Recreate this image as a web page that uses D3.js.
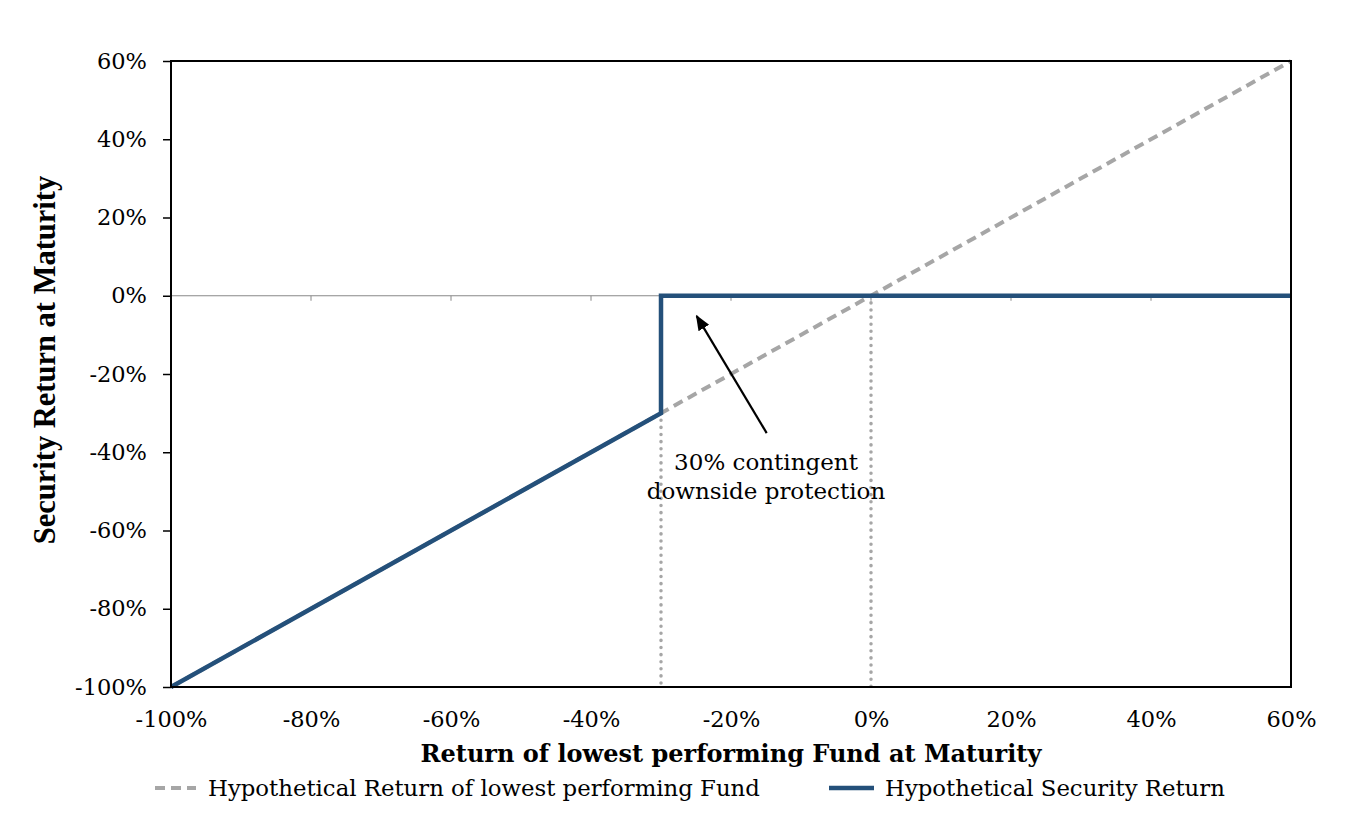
<!DOCTYPE html>
<html>
<head>
<meta charset="utf-8">
<script src="https://cdn.jsdelivr.net/npm/d3@7"></script>
<style>
  body { margin: 0; background: #fff; }
  svg { display: block; }
</style>
</head>
<body>
<svg id="chart"></svg>
<script>
// data
const tickValues = [-1, -0.8, -0.6, -0.4, -0.2, 0, 0.2, 0.4, 0.6];
const fundX = [-1, 0.6];
const fundY = [-1, 0.6];
const securityX = [-1, -0.3, -0.3, 0.6];
const securityY = [-1, -0.3, 0, 0];
const thresholdX = [-0.3, 0];
const thresholdTop = [-0.3, 0];
const seriesNames = ['Hypothetical Return of lowest performing Fund', 'Hypothetical Security Return'];
const noteLines = ['30% contingent', 'downside protection'];
const arrowFrom = [-0.149, -0.351];
const arrowTo = [-0.249, -0.052];

const W = 1368, H = 820;
const margin = {top: 61, right: 77, bottom: 133, left: 171};
const serif = "Georgia, 'DejaVu Serif', serif";
const grey = '#a6a6a6';
const blue = '#24507a';

const svg = d3.select('#chart').attr('width', W).attr('height', H);

const x = d3.scaleLinear().domain([-1, 0.6]).range([margin.left, W - margin.right]);
const y = d3.scaleLinear().domain([-1, 0.6]).range([H - margin.bottom, margin.top]);
const pct = d => d3.format('.0%')(d).replace('−', '-');

svg.append('defs').append('marker')
    .attr('id', 'arrow')
    .attr('viewBox', '0 0 10 10')
    .attr('refX', 9).attr('refY', 5)
    .attr('markerWidth', 7).attr('markerHeight', 7)
    .attr('markerUnits', 'strokeWidth')
    .attr('orient', 'auto')
  .append('path')
    .attr('d', 'M0,1 L10,5 L0,9 z')
    .attr('fill', '#000');

// zero line with small ticks
svg.append('line')
    .attr('x1', x(-1)).attr('x2', x(0.6))
    .attr('y1', y(0)).attr('y2', y(0))
    .attr('stroke', '#888').attr('stroke-width', 1);
svg.append('g').selectAll('line')
    .data(tickValues.slice(1, -1))
    .join('line')
    .attr('x1', d => x(d)).attr('x2', d => x(d))
    .attr('y1', y(0)).attr('y2', y(0) + 5)
    .attr('stroke', '#888');

// dotted threshold lines
svg.append('g').selectAll('line')
    .data(thresholdX)
    .join('line')
    .attr('x1', d => x(d)).attr('x2', d => x(d))
    .attr('y1', (d, i) => y(thresholdTop[i])).attr('y2', y(-1))
    .attr('stroke', grey).attr('stroke-width', 3.5)
    .attr('stroke-dasharray', '0.1 7').attr('stroke-linecap', 'round');

const line = d3.line().x(d => x(d[0])).y(d => y(d[1]));

svg.append('path')
    .datum(d3.zip(fundX, fundY))
    .attr('d', line)
    .attr('fill', 'none').attr('stroke', grey).attr('stroke-width', 4)
    .attr('stroke-dasharray', '10 6');

svg.append('path')
    .datum(d3.zip(securityX, securityY))
    .attr('d', line)
    .attr('fill', 'none').attr('stroke', blue).attr('stroke-width', 4.5);

// plot frame
svg.append('rect')
    .attr('x', x(-1)).attr('y', y(0.6))
    .attr('width', x(0.6) - x(-1)).attr('height', y(-1) - y(0.6))
    .attr('fill', 'none').attr('stroke', '#000').attr('stroke-width', 2);

// y axis
const yAxis = svg.append('g')
    .attr('transform', `translate(${x(-1)},0)`)
    .call(d3.axisLeft(y).tickValues(tickValues).tickFormat(pct).tickSize(8).tickPadding(16));
yAxis.select('.domain').remove();
yAxis.selectAll('line').attr('stroke', '#000').attr('stroke-width', 1.5);
yAxis.selectAll('text').attr('font-family', serif).attr('font-size', 22.5).attr('fill', '#000');

// x tick labels at bottom
const xAxis = svg.append('g')
    .attr('transform', `translate(0,${y(-1)})`)
    .call(d3.axisBottom(x).tickValues(tickValues).tickFormat(pct).tickSize(0).tickPadding(24));
xAxis.select('.domain').remove();
xAxis.selectAll('text').attr('font-family', serif).attr('font-size', 22.5).attr('fill', '#000');

// axis titles
svg.append('text')
    .attr('x', (x(-1) + x(0.6)) / 2).attr('y', 762)
    .attr('text-anchor', 'middle')
    .attr('font-family', serif).attr('font-weight', 'bold').attr('font-size', 24)
    .text('Return of lowest performing Fund at Maturity');

svg.append('text')
    .attr('transform', `translate(55,${(y(-1) + y(0.6)) / 2 - 14}) rotate(-90)`)
    .attr('text-anchor', 'middle')
    .attr('font-family', "'Liberation Serif', 'Times New Roman', serif")
    .attr('font-weight', 'bold').attr('font-size', 30.5)
    .text('Security Return at Maturity');

// annotation
svg.append('line')
    .attr('x1', x(arrowFrom[0])).attr('y1', y(arrowFrom[1]))
    .attr('x2', x(arrowTo[0])).attr('y2', y(arrowTo[1]))
    .attr('stroke', '#000').attr('stroke-width', 2.2)
    .attr('marker-end', 'url(#arrow)');

svg.append('text')
    .attr('text-anchor', 'middle')
    .attr('font-family', serif).attr('font-size', 23)
    .selectAll('tspan')
    .data(noteLines)
    .join('tspan')
    .attr('x', x(-0.15))
    .attr('y', (d, i) => 470 + i * 29)
    .text(d => d);

// legend
const legend = svg.append('g').attr('font-family', serif).attr('font-size', 22.8);
const legendItems = [
  {x0: 155, x1: 196, tx: 208, dash: '10 6', color: grey, w: 4},
  {x0: 829, x1: 874, tx: 885, dash: null, color: blue, w: 4.5}
];
legendItems.forEach((it, i) => {
  legend.append('line')
      .attr('x1', it.x0).attr('x2', it.x1).attr('y1', 788).attr('y2', 788)
      .attr('stroke', it.color).attr('stroke-width', it.w)
      .attr('stroke-dasharray', it.dash);
  legend.append('text')
      .attr('x', it.tx).attr('y', 796)
      .text(seriesNames[i]);
});
</script>
</body>
</html>
